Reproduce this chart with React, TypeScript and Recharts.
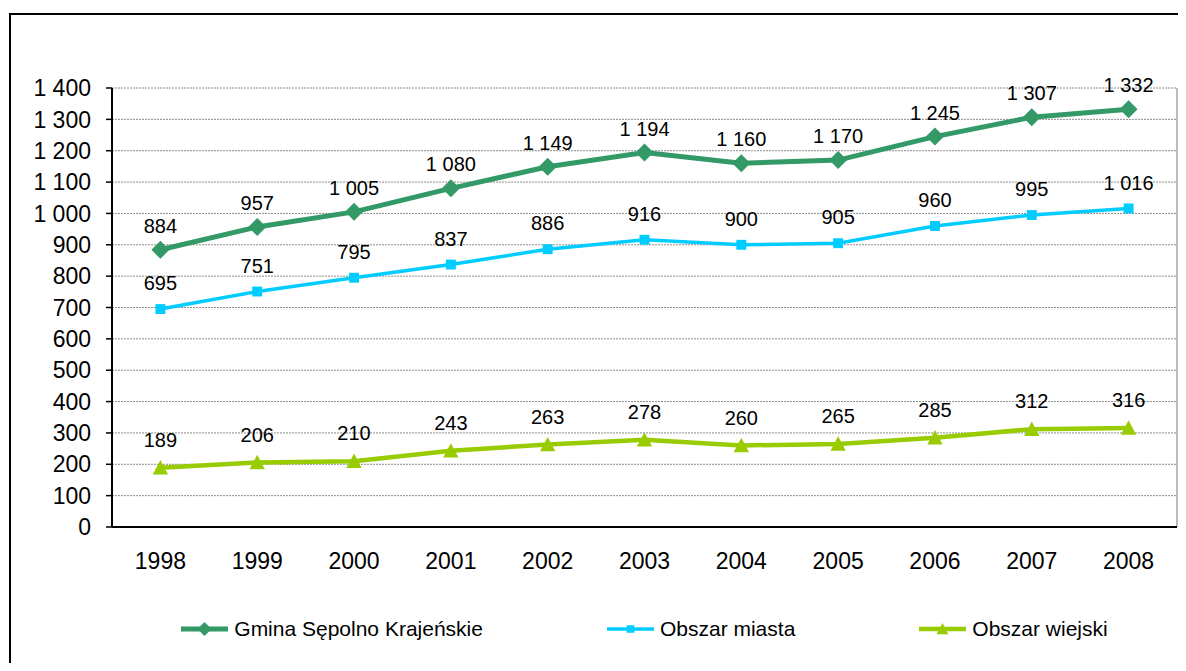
import { LineChart, Line, XAxis, YAxis, CartesianGrid, Legend, LabelList } from 'recharts'

const years = ['1998', '1999', '2000', '2001', '2002', '2003', '2004', '2005', '2006', '2007', '2008']
const gmina = [884, 957, 1005, 1080, 1149, 1194, 1160, 1170, 1245, 1307, 1332]
const miasto = [695, 751, 795, 837, 886, 916, 900, 905, 960, 995, 1016]
const wies = [189, 206, 210, 243, 263, 278, 260, 265, 285, 312, 316]
const yTicks = [0, 100, 200, 300, 400, 500, 600, 700, 800, 900, 1000, 1100, 1200, 1300, 1400]

const rows = years.map((year, i) => ({ x: i, year, gmina: gmina[i], miasto: miasto[i], wies: wies[i] }))
const gridTicks = [...years.map((_, i) => i - 0.5), years.length - 0.5]
const labelTicks = years.map((_, i) => i)
const xDomain = [-0.5, years.length - 0.5]

const series = [
  { key: 'gmina', name: 'Gmina Sępolno Krajeńskie', color: '#339966', width: 5, marker: 'diamond', gap: 24 },
  { key: 'miasto', name: 'Obszar miasta', color: '#00CCFF', width: 3.5, marker: 'square', gap: 26 },
  { key: 'wies', name: 'Obszar wiejski', color: '#99CC00', width: 4.5, marker: 'triangle', gap: 28 },
]

const FONT = '"Liberation Sans", Arial, sans-serif'

// thousands with a space, like "1 400"
const fmt = (v: number) => (v >= 1000 ? `${Math.floor(v / 1000)} ${String(v % 1000).padStart(3, '0')}` : `${v}`)

const markerPath = (marker: string, cx: number, cy: number, s: number) => {
  if (marker === 'diamond') return `M${cx},${cy - s} L${cx + s},${cy} L${cx},${cy + s} L${cx - s},${cy} Z`
  if (marker === 'square') return `M${cx - s * 0.55},${cy - s * 0.55} h${s * 1.1} v${s * 1.1} h${-s * 1.1} Z`
  return `M${cx},${cy - s * 0.85} L${cx + s * 0.85},${cy + s * 0.75} L${cx - s * 0.85},${cy + s * 0.75} Z`
}

const makeDot = (marker: string, color: string) => (props: any) => {
  const { cx, cy, index } = props
  return <path key={`${marker}-${index}`} d={markerPath(marker, cx, cy, 9)} fill={color} />
}

const makeLabel = (gap: number) => (props: any) => {
  const { x, y, value, index } = props
  return (
    <text key={index} x={x} y={y - gap} dy="0.355em" textAnchor="middle" fontSize={20} fill="#000" fontFamily={FONT}>
      {fmt(value)}
    </text>
  )
}

const renderLegend = () => (
  <div style={{ display: 'flex', justifyContent: 'center', gap: 124, fontSize: 21, color: '#000', fontFamily: FONT }}>
    {series.map((s) => (
      <div key={s.key} style={{ display: 'flex', alignItems: 'center', gap: 6 }}>
        <svg width={47} height={20}>
          <line x1={0} y1={10} x2={47} y2={10} stroke={s.color} strokeWidth={s.width} />
          <path d={markerPath(s.marker, 23.5, 10, 7)} fill={s.color} />
        </svg>
        <span>{s.name}</span>
      </div>
    ))}
  </div>
)

export default function App() {
  return (
    <div style={{ position: 'relative', width: 1170, height: 655, overflow: 'hidden', background: '#fff', fontFamily: FONT }}>
      <div style={{ position: 'absolute', left: 1, top: 5, width: 1300, height: 800, border: '2px solid #000' }} />
      <LineChart
        width={1170}
        height={655}
        data={rows}
        margin={{ top: 80, right: 1, left: 0, bottom: 86 }}
        style={{ fontFamily: FONT }}
      >
        <CartesianGrid xAxisId="grid" vertical={false} stroke="#8c8c8c" strokeDasharray="2 1" />
        <CartesianGrid xAxisId="grid" horizontal={false} stroke="#a6a6a6" strokeWidth={1.5} />
        <XAxis
          xAxisId="grid"
          type="number"
          dataKey="x"
          domain={xDomain}
          ticks={gridTicks}
          interval={0}
          tick={false}
          tickSize={8}
          height={10}
          axisLine={{ stroke: '#000', strokeWidth: 2 }}
          tickLine={{ stroke: '#000', strokeWidth: 2 }}
        />
        <XAxis
          xAxisId="lab"
          type="number"
          dataKey="x"
          domain={xDomain}
          ticks={labelTicks}
          interval={0}
          tickFormatter={(i) => years[i]}
          axisLine={false}
          tickLine={false}
          tickSize={0}
          tickMargin={16}
          height={40}
          tick={{ fill: '#000', fontSize: 23 }}
        />
        <YAxis
          domain={[0, 1400]}
          ticks={yTicks}
          interval={0}
          tickFormatter={fmt}
          width={104}
          tickSize={6}
          tickMargin={15}
          axisLine={{ stroke: '#000', strokeWidth: 2 }}
          tickLine={{ stroke: '#000', strokeWidth: 1.5 }}
          tick={{ fill: '#000', fontSize: 23 }}
        />
        <Legend
          verticalAlign="middle"
          align="center"
          content={renderLegend}
          wrapperStyle={{ top: 609, left: 104, width: 1065 }}
        />
        {series.map((s) => (
          <Line
            key={s.key}
            xAxisId="lab"
            type="linear"
            dataKey={s.key}
            name={s.name}
            stroke={s.color}
            strokeWidth={s.width}
            dot={makeDot(s.marker, s.color)}
            activeDot={false}
            isAnimationActive={false}
          >
            <LabelList dataKey={s.key} content={makeLabel(s.gap)} />
          </Line>
        ))}
      </LineChart>
    </div>
  )
}
